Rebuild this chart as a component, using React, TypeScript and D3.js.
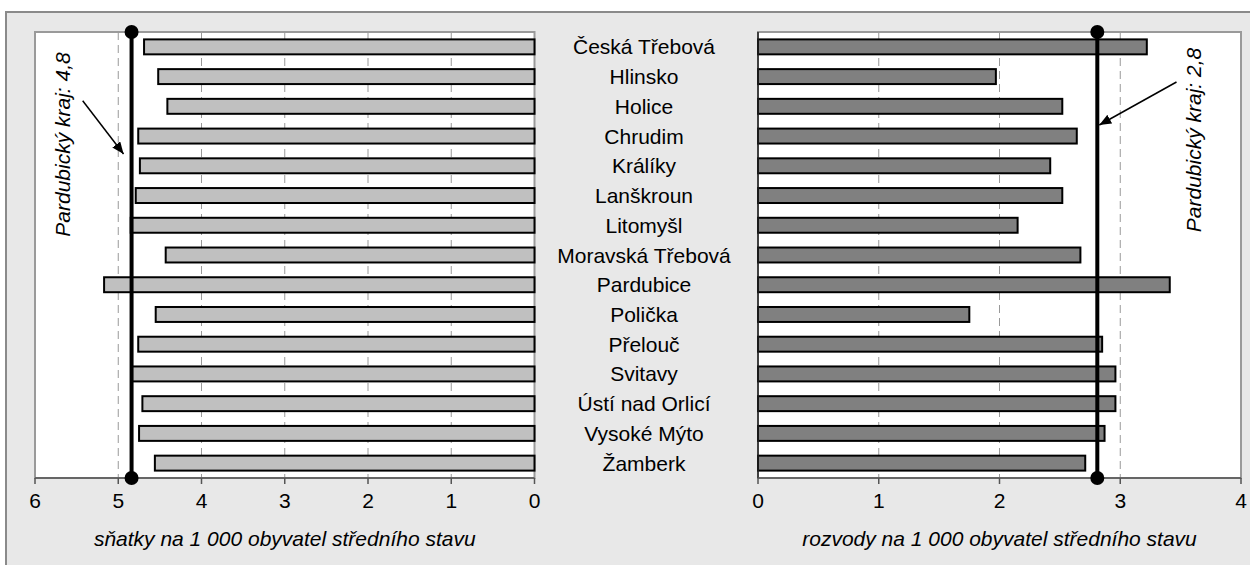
import React from "react";
import * as d3 from "d3";

const categories = [
  "Česká Třebová",
  "Hlinsko",
  "Holice",
  "Chrudim",
  "Králíky",
  "Lanškroun",
  "Litomyšl",
  "Moravská Třebová",
  "Pardubice",
  "Polička",
  "Přelouč",
  "Svitavy",
  "Ústí nad Orlicí",
  "Vysoké Mýto",
  "Žamberk",
];
const marriages = [4.69, 4.52, 4.41, 4.76, 4.74, 4.79, 4.85, 4.43, 5.17, 4.55, 4.76, 4.84, 4.71, 4.75, 4.56];
const divorces = [3.22, 1.97, 2.52, 2.64, 2.42, 2.52, 2.15, 2.67, 3.41, 1.75, 2.85, 2.96, 2.96, 2.87, 2.71];
const marriagesAvg = 4.84;
const divorcesAvg = 2.81;
const marriagesLabel = "Pardubický kraj: 4,8";
const divorcesLabel = "Pardubický kraj: 2,8";
const leftTicks = [0, 1, 2, 3, 4, 5, 6];
const rightTicks = [0, 1, 2, 3, 4];
const leftTitle = "sňatky na 1 000 obyvatel středního stavu";
const rightTitle = "rozvody na 1 000 obyvatel středního stavu";

const W = 1250;
const H = 565;
const TOP = 32;
const BOTTOM = 478;
const FONT = "'Liberation Sans', Arial, sans-serif";
const FS = 21;

export default function App() {
  const xL = d3.scaleLinear().domain([0, 6]).range([534.5, 35]);
  const xR = d3.scaleLinear().domain([0, 4]).range([758, 1241]);
  const y = d3
    .scaleBand<string>()
    .domain(categories)
    .range([TOP, BOTTOM])
    .paddingInner(0.43)
    .paddingOuter(0.215);
  const bw = y.bandwidth();
  const labelX = 644;

  const gridL = leftTicks.filter((t) => t !== 0 && t !== 6);
  const gridR = rightTicks.filter((t) => t !== 0 && t !== 4);

  const aL = xL(marriagesAvg);
  const aR = xR(divorcesAvg);

  return (
    <svg
      width={W}
      height={H}
      style={{ position: "absolute", left: 0, top: 0, display: "block" }}
      fontFamily={FONT}
    >
      <defs>
        <marker
          id="arr"
          viewBox="0 0 12 10"
          refX="12"
          refY="5"
          markerWidth="12"
          markerHeight="10"
          markerUnits="userSpaceOnUse"
          orient="auto"
        >
          <path d="M0,0 L12,5 L0,10 Z" fill="#000" />
        </marker>
      </defs>
      <rect x={6} y={12} width={W + 20} height={H} fill="#e8e8e8" stroke="#8a8a8a" strokeWidth={2} />

      {/* left plot */}
      <rect x={xL(6)} y={TOP} width={xL(0) - xL(6)} height={BOTTOM - TOP} fill="#fff" stroke="#9a9a9a" strokeWidth={2} />
      {gridL.map((t) => (
        <line key={"gl" + t} x1={xL(t)} x2={xL(t)} y1={TOP} y2={BOTTOM} stroke="#999" strokeWidth={1} strokeDasharray="8,5" />
      ))}
      {categories.map((c, i) => (
        <rect
          key={"bl" + c}
          x={xL(marriages[i])}
          y={(y(c) as number) + 1}
          width={xL(0) - xL(marriages[i])}
          height={bw - 2}
          fill="#c0c0c0"
          stroke="#000"
          strokeWidth={2}
        />
      ))}
      <line x1={xL(6)} x2={xL(0)} y1={BOTTOM} y2={BOTTOM} stroke="#555" strokeWidth={1.5} />
      {leftTicks.map((t) => (
        <g key={"tl" + t}>
          <line x1={xL(t)} x2={xL(t)} y1={BOTTOM} y2={BOTTOM + 6} stroke="#555" strokeWidth={1.5} />
          <text x={xL(t)} y={508} textAnchor="middle" fontSize={FS} fill="#000">
            {t}
          </text>
        </g>
      ))}
      <text x={(xL(0) + xL(6)) / 2} y={546} textAnchor="middle" fontSize={FS} fontStyle="italic" fill="#000">
        {leftTitle}
      </text>

      {/* right plot */}
      <rect x={xR(0)} y={TOP} width={xR(4) - xR(0)} height={BOTTOM - TOP} fill="#fff" stroke="#9a9a9a" strokeWidth={2} />
      {gridR.map((t) => (
        <line key={"gr" + t} x1={xR(t)} x2={xR(t)} y1={TOP} y2={BOTTOM} stroke="#999" strokeWidth={1} strokeDasharray="8,5" />
      ))}
      {categories.map((c, i) => (
        <rect
          key={"br" + c}
          x={xR(0)}
          y={(y(c) as number) + 1}
          width={xR(divorces[i]) - xR(0)}
          height={bw - 2}
          fill="#808080"
          stroke="#000"
          strokeWidth={2}
        />
      ))}
      <line x1={xR(0)} x2={xR(0)} y1={TOP} y2={BOTTOM} stroke="#222" strokeWidth={1.5} />
      <line x1={xR(0)} x2={xR(4)} y1={BOTTOM} y2={BOTTOM} stroke="#555" strokeWidth={1.5} />
      {rightTicks.map((t) => (
        <g key={"tr" + t}>
          <line x1={xR(t)} x2={xR(t)} y1={BOTTOM} y2={BOTTOM + 6} stroke="#555" strokeWidth={1.5} />
          <text x={xR(t)} y={508} textAnchor="middle" fontSize={FS} fill="#000">
            {t}
          </text>
        </g>
      ))}
      <text x={(xR(0) + xR(4)) / 2} y={546} textAnchor="middle" fontSize={FS} fontStyle="italic" fill="#000">
        {rightTitle}
      </text>

      {/* category labels */}
      {categories.map((c) => (
        <text key={"lab" + c} x={labelX} y={(y(c) as number) + bw / 2 + 7.5} textAnchor="middle" fontSize={FS} fill="#000">
          {c}
        </text>
      ))}

      {/* region averages */}
      <line x1={aL} x2={aL} y1={TOP} y2={BOTTOM} stroke="#000" strokeWidth={4} />
      <circle cx={aL} cy={TOP} r={7} fill="#000" />
      <circle cx={aL} cy={BOTTOM} r={7} fill="#000" />
      <line x1={aR} x2={aR} y1={TOP} y2={BOTTOM} stroke="#000" strokeWidth={4} />
      <circle cx={aR} cy={TOP} r={7} fill="#000" />
      <circle cx={aR} cy={BOTTOM} r={7} fill="#000" />

      {/* annotations */}
      <text transform={`translate(70,144.5) rotate(-90)`} textAnchor="middle" fontSize={FS} fontStyle="italic" fill="#000">
        {marriagesLabel}
      </text>
      <line x1={82.7} y1={100.7} x2={aL - 8} y2={154} stroke="#000" strokeWidth={1.5} markerEnd="url(#arr)" />
      <text transform={`translate(1201,140) rotate(-90)`} textAnchor="middle" fontSize={FS} fontStyle="italic" fill="#000">
        {divorcesLabel}
      </text>
      <line x1={1176.5} y1={82} x2={aR + 2} y2={125} stroke="#000" strokeWidth={1.5} markerEnd="url(#arr)" />
    </svg>
  );
}
